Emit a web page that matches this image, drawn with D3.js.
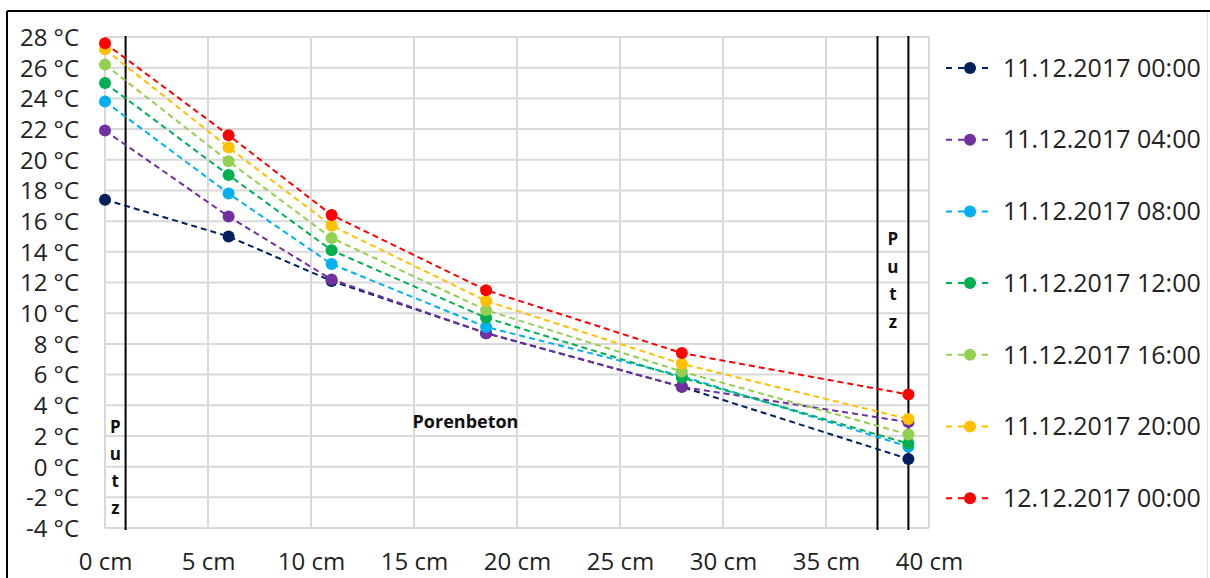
<!DOCTYPE html>
<html><head><meta charset="utf-8">
<script src="https://cdn.jsdelivr.net/npm/d3@7"></script>
<style>
html,body{margin:0;padding:0;background:#fff;}
svg{display:block;}
text{font-family:"Open Sans",sans-serif;}
</style></head>
<body><svg id="c" width="1210" height="578"></svg>
<script>
const positions = [0, 6, 11, 18.5, 28, 39];
const seriesNames = ["11.12.2017 00:00","11.12.2017 04:00","11.12.2017 08:00","11.12.2017 12:00","11.12.2017 16:00","11.12.2017 20:00","12.12.2017 00:00"];
const seriesColors = ["#002060","#7030A0","#00B0F0","#00B050","#92D050","#FFC000","#FF0000"];
const s0000 = [17.4, 15.0, 12.1, 8.7, 5.2, 0.5];
const s0400 = [21.9, 16.3, 12.2, 8.7, 5.2, 2.9];
const s0800 = [23.8, 17.8, 13.2, 9.1, 5.9, 1.3];
const s1200 = [25.0, 19.0, 14.1, 9.7, 5.8, 1.5];
const s1600 = [26.2, 19.9, 14.9, 10.2, 6.2, 2.1];
const s2000 = [27.2, 20.8, 15.7, 10.8, 6.7, 3.1];
const s2400 = [27.6, 21.6, 16.4, 11.5, 7.4, 4.7];
const seriesValues = [s0000, s0400, s0800, s1200, s1600, s2000, s2400];
const xTicks = [0,5,10,15,20,25,30,35,40];
const yTicks = [-4,-2,0,2,4,6,8,10,12,14,16,18,20,22,24,26,28];
const layerBounds = [1, 37.5, 39];

const svg = d3.select("#c");
const x = d3.scaleLinear().domain([0,40]).range([105,929]);
const y = d3.scaleLinear().domain([-4,28]).range([528,37]);

// outer frame
svg.append("line").attr("x1",7).attr("x2",7).attr("y1",11).attr("y2",578).attr("stroke","#000").attr("stroke-width",2);
svg.append("line").attr("x1",7).attr("x2",1210).attr("y1",11).attr("y2",11).attr("stroke","#000").attr("stroke-width",2);
svg.append("line").attr("x1",1207.5).attr("x2",1207.5).attr("y1",12).attr("y2",578).attr("stroke","#ddd").attr("stroke-width",1);

// grid
const g = svg.append("g");
g.selectAll(".gx").data(xTicks).join("line")
  .attr("x1",d=>x(d)).attr("x2",d=>x(d)).attr("y1",y(28)).attr("y2",y(-4))
  .attr("stroke","#d9d9d9").attr("stroke-width",2);
g.selectAll(".gy").data(yTicks).join("line")
  .attr("x1",x(0)).attr("x2",x(40)).attr("y1",d=>y(d)).attr("y2",d=>y(d))
  .attr("stroke","#d9d9d9").attr("stroke-width",2);

// axes labels
const yAxis = d3.axisLeft(y).tickValues(yTicks).tickSize(0).tickPadding(0).tickFormat(d=>d+" °C");
const ya = svg.append("g").attr("transform","translate(79,0)").call(yAxis);
ya.select(".domain").remove();
ya.selectAll("text").attr("font-family","Open Sans").attr("font-size",24).attr("fill","#222").attr("dy","0.35em");

const xAxis = d3.axisBottom(x).tickValues(xTicks).tickSize(0).tickPadding(0).tickFormat(d=>d+" cm");
const xa = svg.append("g").attr("transform","translate(0,562)").call(xAxis);
xa.select(".domain").remove();
xa.selectAll("text").attr("font-family","Open Sans").attr("font-size",24).attr("fill","#222").attr("dy","0.35em");

// layer boundaries
svg.selectAll(".lb").data(layerBounds).join("line")
  .attr("x1",d=>x(d)).attr("x2",d=>x(d)).attr("y1",y(28)-1).attr("y2",y(-4)+2)
  .attr("stroke","#000").attr("stroke-width",2);

// annotations
const putzL = ["P","u","t","z"];
svg.selectAll(".pl").data(putzL).join("text")
  .attr("x",x(0.5)).attr("y",(d,i)=>y(2.6)+i*27).attr("text-anchor","middle").attr("dy","0.35em")
  .attr("font-family","Open Sans").attr("font-weight","bold").attr("font-size",17).attr("fill","#111").text(d=>d);
svg.selectAll(".pr").data(putzL).join("text")
  .attr("x",x(38.25)).attr("y",(d,i)=>y(14.8)+i*27.5).attr("text-anchor","middle").attr("dy","0.35em")
  .attr("font-family","Open Sans").attr("font-weight","bold").attr("font-size",17).attr("fill","#111").text(d=>d);
svg.append("text").attr("x",x(17.5)).attr("y",y(2.95)).attr("text-anchor","middle").attr("dy","0.35em")
  .attr("font-family","Open Sans").attr("font-weight","bold").attr("font-size",18).attr("fill","#111").text("Porenbeton");

// series
const line = d3.line().x((d,i)=>x(positions[i])).y(d=>y(d));
seriesValues.forEach((vals,k)=>{
  const sg = svg.append("g");
  sg.append("path").attr("d",line(vals)).attr("fill","none").attr("stroke",seriesColors[k])
    .attr("stroke-width",2).attr("stroke-dasharray","6,4");
  sg.selectAll("circle").data(vals).join("circle")
    .attr("cx",(d,i)=>x(positions[i])).attr("cy",d=>y(d)).attr("r",6).attr("fill",seriesColors[k]);
});

// legend
const lg = svg.append("g");
seriesNames.forEach((n,k)=>{
  const yy = 68 + k*71.7;
  lg.append("line").attr("x1",946).attr("x2",994).attr("y1",yy).attr("y2",yy)
    .attr("stroke",seriesColors[k]).attr("stroke-width",2).attr("stroke-dasharray","6,6");
  lg.append("circle").attr("cx",970).attr("cy",yy).attr("r",6).attr("fill",seriesColors[k]);
  lg.append("text").attr("x",1003).attr("y",yy).attr("dy","0.35em").attr("font-family","Open Sans")
    .attr("font-size",25).attr("fill","#222").text(n);
});
</script></body></html>
